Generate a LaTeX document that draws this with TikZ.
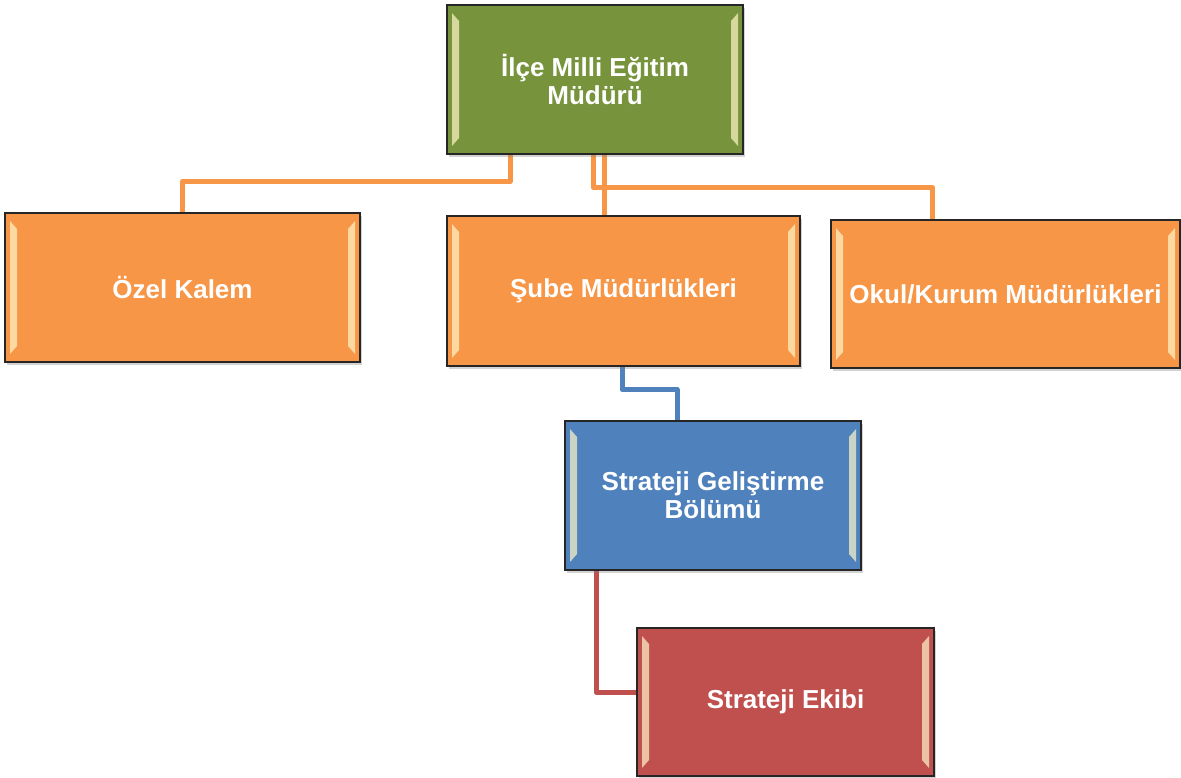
\documentclass[tikz,border=0pt]{standalone}
\usepackage{fontspec}
\setmainfont{Liberation Sans}
\usetikzlibrary{shadows,backgrounds}
\definecolor{mudurgreen}{HTML}{77933C}
\definecolor{birimorange}{HTML}{F79646}
\definecolor{bolumblue}{HTML}{4F81BD}
\definecolor{ekipred}{HTML}{C0504D}
\definecolor{bevellight}{HTML}{FFF6C8}
\tikzset{
orgbox/.style={
	  draw=black!85, line width=1.2pt, text=white, align=center,
	    font=\fontsize{26}{28}\selectfont\bfseries, inner sep=0pt,
	    drop shadow={shadow xshift=2pt, shadow yshift=-3pt, opacity=0.35},
	    path picture={
	      \fill[bevellight, opacity=0.7]
	        ([shift={(5,8)}]path picture bounding box.north west) --
	        ([shift={(12,16)}]path picture bounding box.north west) --
	        ([shift={(12,-16)}]path picture bounding box.south west) --
	        ([shift={(5,-8)}]path picture bounding box.south west) -- cycle;
	      \fill[bevellight, opacity=0.7]
	        ([shift={(-5,8)}]path picture bounding box.north east) --
	        ([shift={(-12,16)}]path picture bounding box.north east) --
	        ([shift={(-12,-16)}]path picture bounding box.south east) --
	        ([shift={(-5,-8)}]path picture bounding box.south east) -- cycle;
	    }},
orgline/.style={line width=5pt, line join=round}
}

\begin{document}
\begin{tikzpicture}[x=1pt, y=-1pt]
	\useasboundingbox (0,0) rectangle (1181,778);
	\node[orgbox, fill=mudurgreen, minimum width=296, minimum height=149] (mudur) at (595,79.5) {İlçe Milli Eğitim\\Müdürü};
	\node[orgbox, fill=birimorange, minimum width=355, minimum height=149] (ozel) at (182.5,287.5) {Özel Kalem};
	\node[orgbox, fill=birimorange, minimum width=353, minimum height=150] (sube) at (623.5,291) {Şube Müdürlükleri};
	\node[orgbox, fill=birimorange, minimum width=349, minimum height=148] (okul) at (1005.5,294) {Okul/Kurum Müdürlükleri};
	\node[orgbox, fill=bolumblue, minimum width=296, minimum height=149] (sgb) at (713,495.5) {Strateji Geliştirme\\Bölümü};
	\node[orgbox, fill=ekipred, minimum width=297, minimum height=148] (ekip) at (785.5,702) {Strateji Ekibi};
	\begin{scope}[on background layer]
	\draw[orgline, birimorange] ([xshift=-85pt]mudur.south) -- ++(0,27) -| (ozel.north);
	\draw[orgline, birimorange] ([xshift=-2pt]mudur.south) -- ++(0,33) -| ([xshift=-73pt]okul.north);
	\draw[orgline, birimorange] ([xshift=9pt]mudur.south) -- ([xshift=-19.5pt]sube.north);
	\draw[orgline, bolumblue] ([xshift=-1.5pt]sube.south) -- ++(0,23) -| ([xshift=-36pt]sgb.north);
	\draw[orgline, ekipred] ([xshift=-117pt]sgb.south) |- ([yshift=10pt]ekip.west);
	\end{scope}
\end{tikzpicture}
\end{document}
